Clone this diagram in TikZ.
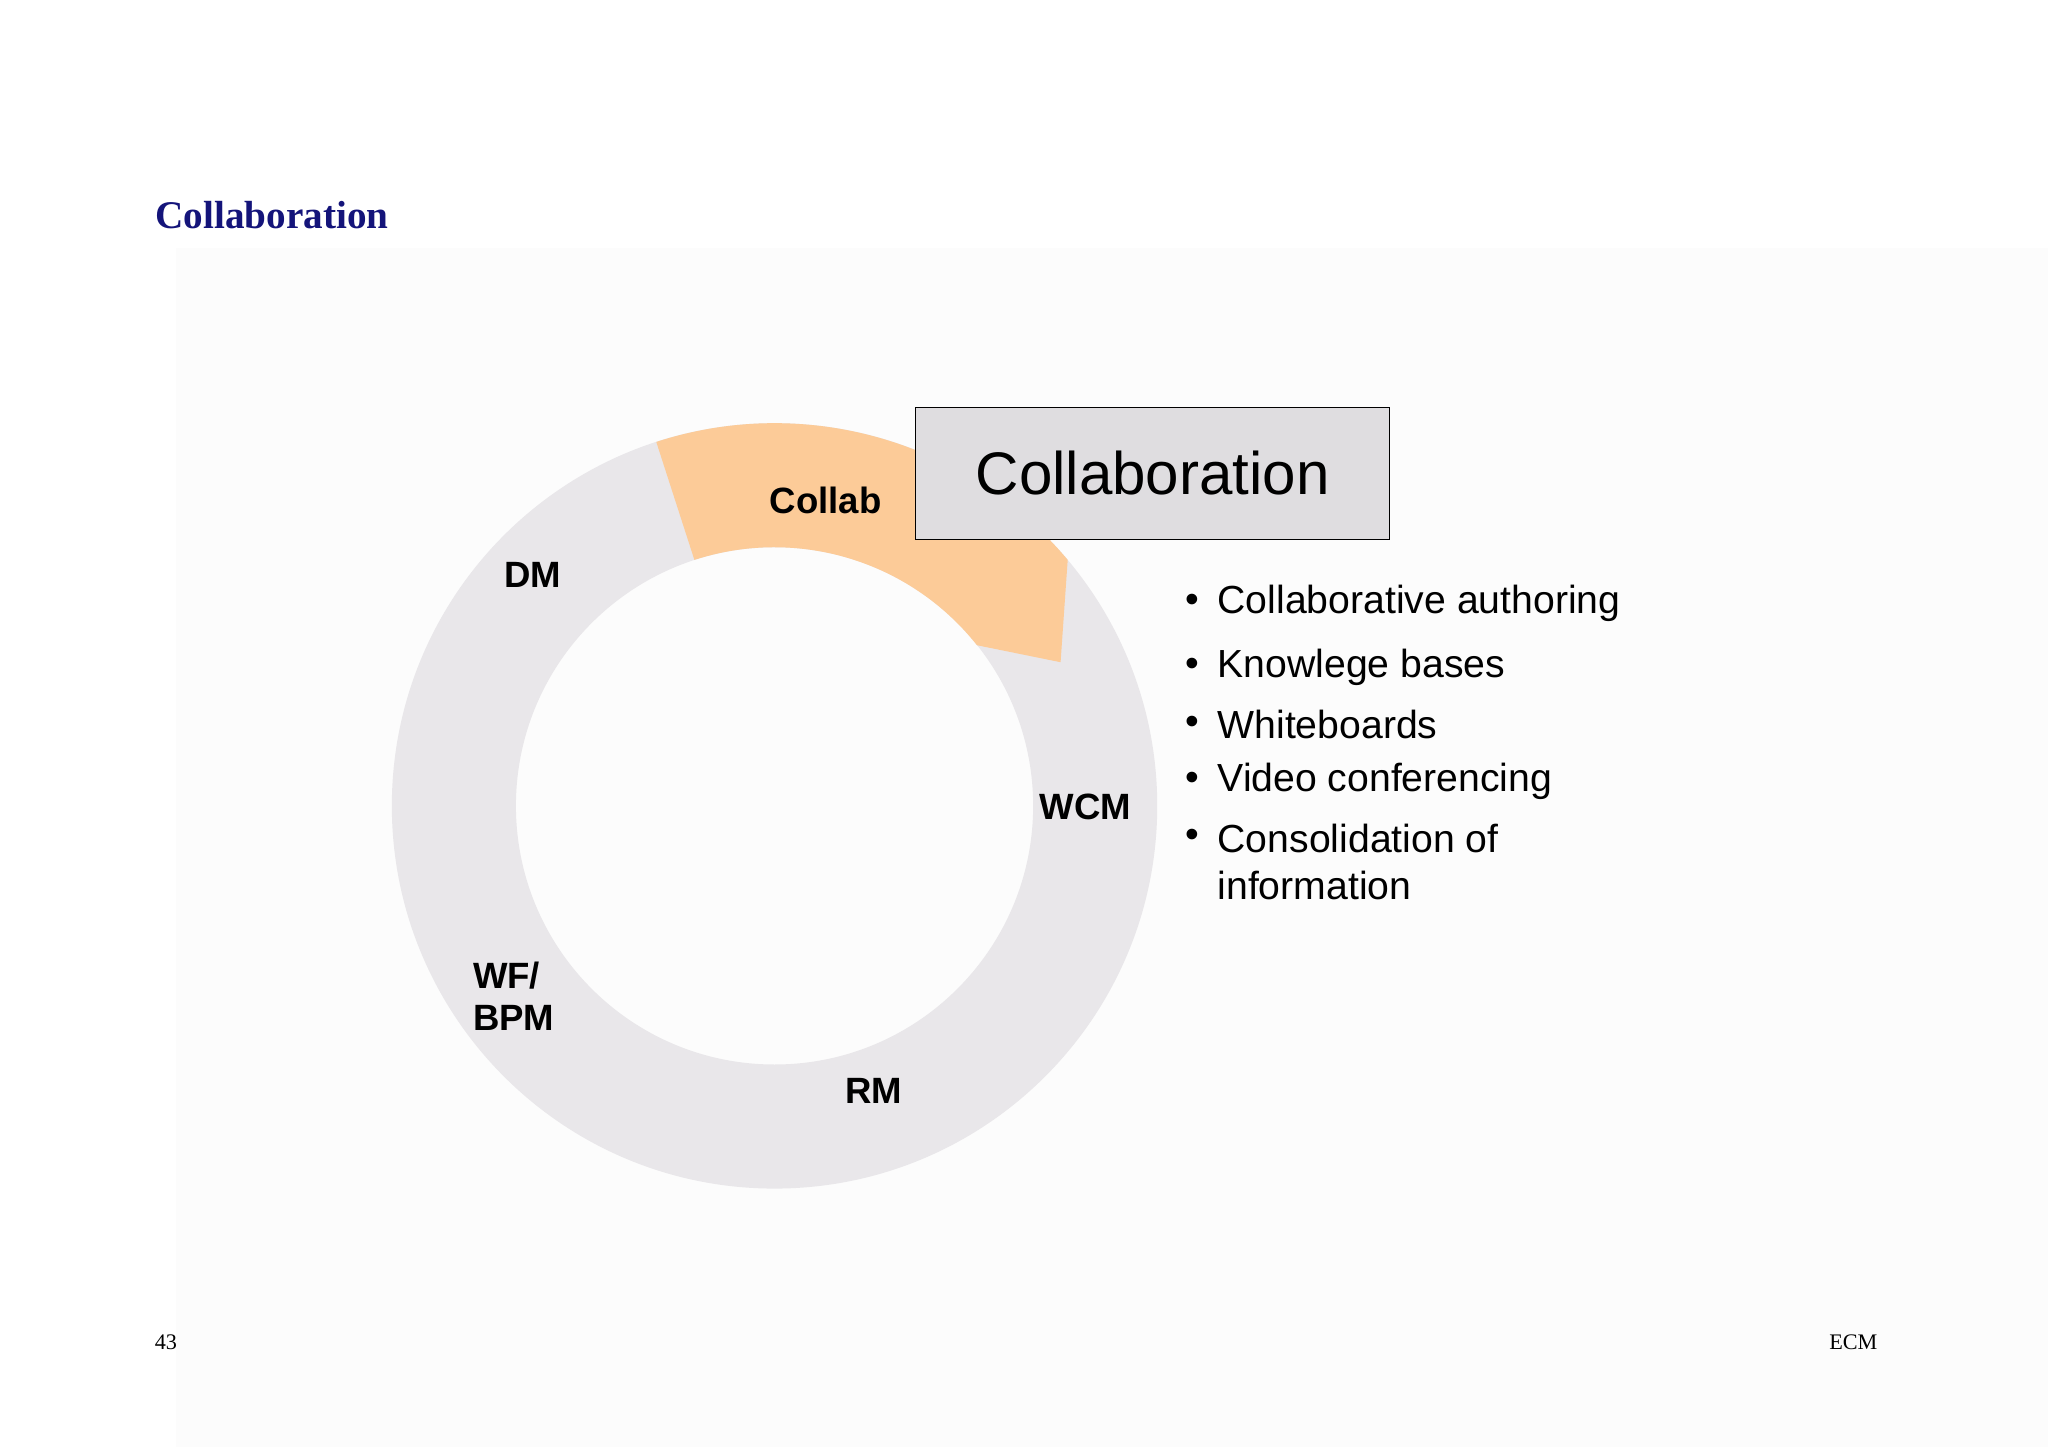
\documentclass[tikz,border=0pt]{standalone}
\usepackage{fontspec}
\usetikzlibrary{calc}
\setmainfont{Liberation Serif}
\newfontfamily\mysans{Liberation Sans}
\definecolor{ringgray}{HTML}{E9E7EA}
\definecolor{orng}{HTML}{FCCB98}
\definecolor{boxgray}{HTML}{DFDDE0}
\definecolor{navy}{HTML}{14147A}
\begin{document}
\begin{tikzpicture}[x=1pt,y=-1pt,
  lab/.style={font=\mysans\bfseries\fontsize{28}{32}\selectfont,inner sep=0pt},
  bul/.style={font=\mysans\fontsize{30}{36}\selectfont,inner sep=0pt,anchor=west,align=left},
  foot/.style={font=\fontsize{17}{20}\selectfont,inner sep=0pt}]
\useasboundingbox (0,0) rectangle (1568,1108);
\fill[white] (0,0) rectangle (1568,1108);
\fill[black!1] (135,190) rectangle (1568,1108);
\node[font=\bfseries\fontsize{30}{34}\selectfont,text=navy,anchor=west,inner sep=0pt] (title) at (119,165) {Collaboration};
% ring
\coordinate (c) at (593,617);
\fill[ringgray,even odd rule] (c) circle[radius=293] (c) circle[radius=198];
% orange wedge (y axis inverted: use negative angles)
\fill[orng] ($(c)+(-108:293)$) arc[start angle=-108,end angle=-40,radius=293]
  -- (812,507) -- (748,494) arc[start angle=-38.4,end angle=-108,radius=198] -- cycle;
\node[draw=black,fill=boxgray,line width=0.8pt,minimum width=363pt,minimum height=101pt,inner sep=0pt,font=\mysans\fontsize{46}{50}\selectfont] (box) at (882.5,362.5) {Collaboration};
\node[lab] (collab) at (632,383) {Collab};
\node[lab] (dm) at (408,440) {DM};
\node[lab] (wcm) at (831,618) {WCM};
\node[lab,anchor=west,align=left] (wf) at (362,763) {WF/\\BPM};
\node[lab] (rm) at (669,835) {RM};
\foreach \y/\t [count=\i] in {462/Collaborative authoring,511/Knowlege bases,555/Whiteboards,598/Video conferencing,642/Consolidation of}{
  \node[bul] (b\i) at (932,\y) {\t};
  \node[bul,anchor=center] (d\i) at (913,\y) {\textbullet};
}
\node[bul] (b6) at (932,678) {information};
\node[foot] (num) at (127,1028) {43};
\node[foot] (ecm) at (1419,1028) {ECM};
\end{tikzpicture}
\end{document}
